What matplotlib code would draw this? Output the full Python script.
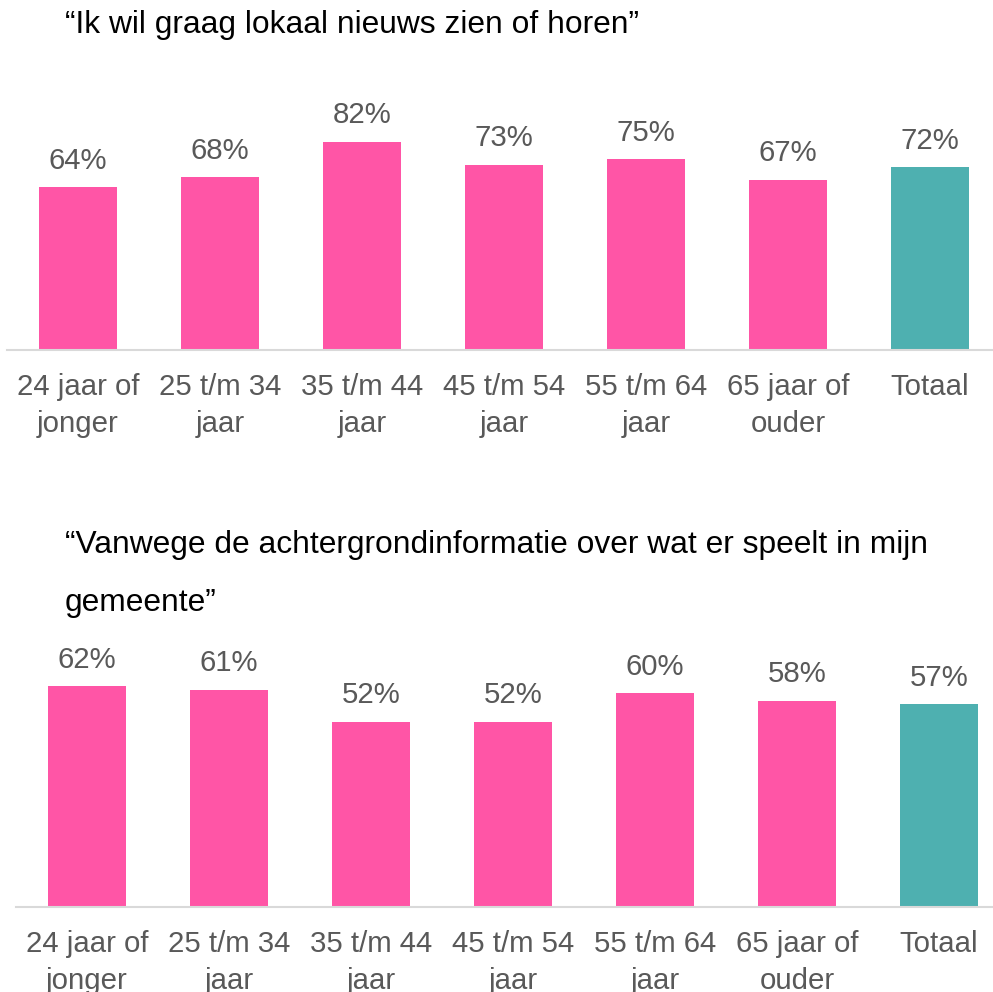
import matplotlib
matplotlib.use("Agg")
import matplotlib.pyplot as plt

plt.rcParams['font.family'] = ['Liberation Sans', 'DejaVu Sans']

categories = ["24 jaar of\njonger", "25 t/m 34\njaar", "35 t/m 44\njaar", "45 t/m 54\njaar",
              "55 t/m 64\njaar", "65 jaar of\nouder", "Totaal"]
values_top = [64, 68, 82, 73, 75, 67, 72]
values_bottom = [62, 61, 52, 52, 60, 58, 57]
title_top = "\u201cIk wil graag lokaal nieuws zien of horen\u201d"
title_bottom_1 = "\u201cVanwege de achtergrondinformatie over wat er speelt in mijn"
title_bottom_2 = "gemeente\u201d"

PINK = "#FF55A6"
TEAL = "#4EB0B0"
GRAY = "#595959"
LINE = "#D9D9D9"
FS = 21.2
FS_TITLE = 22.9

W, H = 993, 992
fig = plt.figure(figsize=(W / 100, H / 100), dpi=100)


def px_axes(x0, x1, ybase, pxper):
    h = 100 * pxper
    return fig.add_axes([x0 / W, (H - ybase) / H, (x1 - x0) / W, h / H])


def draw(ax, vals):
    colors = [PINK] * (len(vals) - 1) + [TEAL]
    x = list(range(len(vals)))
    bars = ax.bar(x, vals, width=0.55, color=colors)
    ax.set_xlim(-0.5, len(vals) - 0.5)
    ax.set_ylim(0, 100)
    for s in ["top", "right", "left"]:
        ax.spines[s].set_visible(False)
    ax.spines["bottom"].set_color(LINE)
    ax.spines["bottom"].set_linewidth(1.5)
    ax.set_yticks([])
    ax.set_xticks(x)
    ax.set_xticklabels(categories, fontsize=FS, color=GRAY, linespacing=1.42)
    ax.tick_params(axis="x", length=0, pad=16.5)
    for b, v in zip(bars, vals):
        ax.annotate(f"{v}%", (b.get_x() + b.get_width() / 2, v), xytext=(0, 9),
                    textcoords="offset points", ha="center", va="bottom",
                    fontsize=FS, color=GRAY)
    ax.patch.set_alpha(0)


ax1 = px_axes(7, 1001, 350, 2.54)
draw(ax1, values_top)
ax2 = px_axes(16, 1010, 907, 3.56)
draw(ax2, values_bottom)

fig.text(65 / W, 1 - 25 / H, title_top, fontsize=FS_TITLE, color="black", va="center", ha="left")
fig.text(65 / W, 1 - 545 / H, title_bottom_1, fontsize=FS_TITLE, color="black", va="center", ha="left")
fig.text(65 / W, 1 - 603 / H, title_bottom_2, fontsize=FS_TITLE, color="black", va="center", ha="left")

fig.savefig("out.png", dpi=100)
